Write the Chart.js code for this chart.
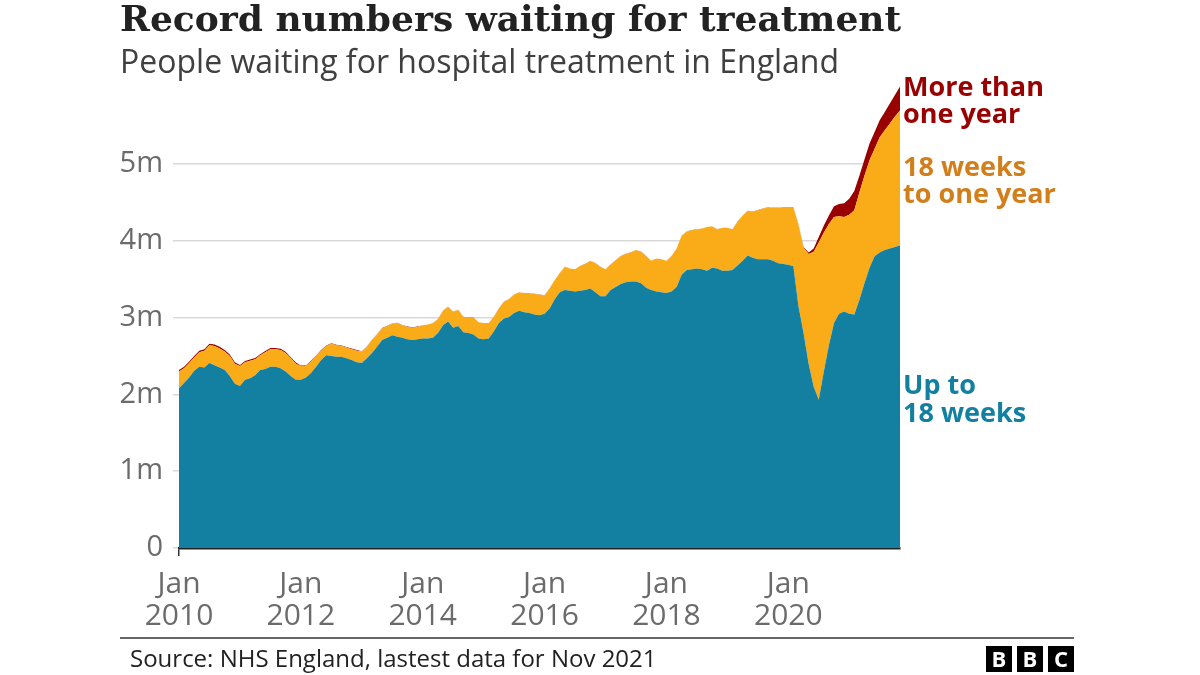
<!DOCTYPE html>
<html>
<head>
<meta charset="utf-8">
<script src="https://cdn.jsdelivr.net/npm/chart.js@4.4.1/dist/chart.umd.min.js"></script>
<style>
  body { margin: 0; background: #fff; }
  #chart { display: block; }
</style>
</head>
<body>
<canvas id="chart" width="1200" height="675"></canvas>
<script>
// ========== Data (millions of people, monthly Jan 2010 - Nov 2021) ==========
const monthNames = ['Jan', 'Feb', 'Mar', 'Apr', 'May', 'Jun', 'Jul', 'Aug', 'Sep', 'Oct', 'Nov', 'Dec'];
const years = [2010, 2011, 2012, 2013, 2014, 2015, 2016, 2017, 2018, 2019, 2020, 2021];
const lastMonthCount = 11; // data runs to Nov 2021

const upTo18Weeks = [
  2.08, 2.15, 2.22, 2.31, 2.36, 2.35, 2.41, 2.38, 2.35, 2.32, 2.24, 2.14,
  2.11, 2.19, 2.21, 2.25, 2.32, 2.33, 2.36, 2.36, 2.34, 2.30, 2.24, 2.19,
  2.19, 2.22, 2.28, 2.36, 2.45, 2.51, 2.50, 2.49, 2.49, 2.47, 2.45, 2.42,
  2.41, 2.47, 2.54, 2.62, 2.71, 2.74, 2.77, 2.75, 2.74, 2.72, 2.71, 2.72,
  2.73, 2.73, 2.74, 2.80, 2.90, 2.95, 2.87, 2.89, 2.81, 2.80, 2.78, 2.73,
  2.72, 2.73, 2.82, 2.93, 2.99, 3.01, 3.06, 3.09, 3.07, 3.06, 3.04, 3.03,
  3.05, 3.12, 3.24, 3.33, 3.36, 3.35, 3.34, 3.35, 3.36, 3.38, 3.33, 3.28,
  3.28, 3.36, 3.40, 3.44, 3.46, 3.47, 3.47, 3.45, 3.39, 3.36, 3.34, 3.33,
  3.32, 3.34, 3.40, 3.56, 3.62, 3.63, 3.64, 3.63, 3.61, 3.65, 3.64, 3.61,
  3.61, 3.62, 3.68, 3.74, 3.81, 3.78, 3.76, 3.76, 3.76, 3.74, 3.71, 3.70,
  3.69, 3.67, 3.15, 2.80, 2.40, 2.10, 1.93, 2.30, 2.64, 2.93, 3.05, 3.08,
  3.05, 3.04, 3.23, 3.45, 3.65, 3.80, 3.85, 3.88, 3.90, 3.92, 3.94
];

const weeks18ToYear = [
  0.22, 0.19, 0.19, 0.17, 0.19, 0.22, 0.23, 0.25, 0.25, 0.24, 0.26, 0.26,
  0.26, 0.23, 0.23, 0.21, 0.19, 0.22, 0.23, 0.23, 0.24, 0.24, 0.23, 0.21,
  0.18, 0.15, 0.15, 0.14, 0.12, 0.12, 0.16, 0.15, 0.14, 0.14, 0.14, 0.15,
  0.15, 0.15, 0.17, 0.16, 0.15, 0.15, 0.15, 0.18, 0.16, 0.16, 0.16, 0.16,
  0.17, 0.18, 0.19, 0.18, 0.19, 0.19, 0.21, 0.21, 0.20, 0.20, 0.22, 0.21,
  0.21, 0.20, 0.19, 0.19, 0.22, 0.23, 0.24, 0.24, 0.25, 0.26, 0.27, 0.27,
  0.24, 0.26, 0.25, 0.25, 0.30, 0.29, 0.29, 0.32, 0.34, 0.36, 0.38, 0.38,
  0.35, 0.33, 0.35, 0.36, 0.37, 0.38, 0.41, 0.41, 0.41, 0.38, 0.43, 0.43,
  0.42, 0.46, 0.50, 0.51, 0.50, 0.51, 0.51, 0.53, 0.57, 0.54, 0.51, 0.56,
  0.56, 0.53, 0.57, 0.59, 0.58, 0.60, 0.64, 0.66, 0.68, 0.69, 0.72, 0.74,
  0.75, 0.77, 1.06, 1.11, 1.43, 1.76, 2.05, 1.81, 1.58, 1.38, 1.27, 1.23,
  1.29, 1.36, 1.40, 1.40, 1.40, 1.40, 1.50, 1.56, 1.63, 1.70, 1.76
];

const overOneYear = [
  0.020, 0.020, 0.020, 0.020, 0.020, 0.020, 0.020, 0.020, 0.020, 0.020, 0.020, 0.020,
  0.015, 0.015, 0.015, 0.015, 0.015, 0.015, 0.015, 0.015, 0.015, 0.015, 0.015, 0.015,
  0.008, 0.008, 0.008, 0.008, 0.008, 0.008, 0.008, 0.008, 0.008, 0.008, 0.008, 0.008,
  0.004, 0.004, 0.004, 0.004, 0.004, 0.004, 0.004, 0.004, 0.004, 0.004, 0.004, 0.004,
  0.002, 0.002, 0.002, 0.002, 0.002, 0.002, 0.002, 0.002, 0.002, 0.002, 0.002, 0.002,
  0.002, 0.002, 0.002, 0.002, 0.002, 0.002, 0.002, 0.002, 0.002, 0.002, 0.002, 0.002,
  0.002, 0.002, 0.002, 0.002, 0.002, 0.002, 0.002, 0.002, 0.002, 0.002, 0.002, 0.002,
  0.002, 0.002, 0.002, 0.002, 0.002, 0.002, 0.002, 0.002, 0.002, 0.002, 0.002, 0.002,
  0.002, 0.002, 0.002, 0.002, 0.002, 0.002, 0.002, 0.002, 0.002, 0.002, 0.002, 0.002,
  0.002, 0.002, 0.002, 0.002, 0.002, 0.002, 0.002, 0.002, 0.002, 0.002, 0.002, 0.002,
  0.003, 0.003, 0.006, 0.012, 0.020, 0.040, 0.070, 0.090, 0.110, 0.140, 0.160, 0.180,
  0.210, 0.250, 0.220, 0.210, 0.220, 0.220, 0.220, 0.240, 0.260, 0.280, 0.310
];

const yTickValues = [0, 1, 2, 3, 4, 5];
const yTickLabels = ['0', '1m', '2m', '3m', '4m', '5m'];
const xTickYears = [2010, 2012, 2014, 2016, 2018, 2020];

// ========== Categories ==========
const months = [];
years.forEach((y, i) => {
  const n = i === years.length - 1 ? lastMonthCount : 12;
  for (let m = 0; m < n; m++) months.push(monthNames[m] + ' ' + y);
});

// ========== Styles ==========
const TEAL = '#1380A1';
const ORANGE = '#FAAB18';
const RED = '#990000';
const SANS = '"Open Sans", "Noto Sans", sans-serif';

// ========== Text overlay ==========
const textPlugin = {
  id: 'textOverlay',
  afterDraw(chart) {
    const ctx = chart.ctx;
    ctx.save();
    ctx.textAlign = 'left';
    ctx.textBaseline = 'alphabetic';

    ctx.fillStyle = '#222';
    ctx.font = 'bold 36px "DejaVu Serif", serif';
    ctx.fillText('Record numbers waiting for treatment', 120, 31);

    ctx.fillStyle = '#404040';
    ctx.font = '32px ' + SANS;
    ctx.fillText('People waiting for hospital treatment in England', 120, 73);

    // series labels on the right
    ctx.font = 'bold 27px ' + SANS;
    ctx.fillStyle = RED;
    ctx.fillText('More than', 903, 96);
    ctx.fillText('one year', 903, 123);
    ctx.fillStyle = '#D27F1B';
    ctx.fillText('18 weeks', 903, 176);
    ctx.fillText('to one year', 903, 203);
    ctx.fillStyle = TEAL;
    ctx.fillText('Up to', 903, 394);
    ctx.fillText('18 weeks', 903, 422);

    // footer
    ctx.strokeStyle = '#333';
    ctx.lineWidth = 1.5;
    ctx.beginPath();
    ctx.moveTo(120, 638);
    ctx.lineTo(1074, 638);
    ctx.stroke();

    ctx.fillStyle = '#222';
    ctx.font = '24px ' + SANS;
    ctx.fillText('Source: NHS England, lastest data for Nov 2021', 130, 667);

    ['B', 'B', 'C'].forEach((ch, i) => {
      const x = 986 + i * 31;
      ctx.fillStyle = '#000';
      ctx.fillRect(x, 646, 26, 26);
      ctx.fillStyle = '#fff';
      ctx.font = 'bold 22px ' + SANS;
      ctx.textAlign = 'center';
      ctx.fillText(ch, x + 13, 667);
    });
    ctx.restore();
  }
};

// ========== Chart ==========
new Chart(document.getElementById('chart'), {
  type: 'line',
  data: {
    labels: months,
    datasets: [
      { label: 'Up to 18 weeks', data: upTo18Weeks, backgroundColor: TEAL, borderWidth: 0, fill: 'origin' },
      { label: '18 weeks to one year', data: weeks18ToYear, backgroundColor: ORANGE, borderWidth: 0, fill: '-1' },
      { label: 'More than one year', data: overOneYear, backgroundColor: RED, borderWidth: 0, fill: '-1' }
    ]
  },
  options: {
    responsive: false,
    animation: false,
    layout: { padding: { top: 72, right: 300, left: 0, bottom: 0 } },
    elements: { point: { radius: 0 }, line: { tension: 0 } },
    plugins: { legend: { display: false }, tooltip: { enabled: false } },
    scales: {
      x: {
        z: 1,
        afterFit: s => { s.height = 127; },
        grid: {
          drawOnChartArea: false,
          tickLength: 8,
          lineWidth: 1.5,
          color: c => (c.index % 24 === 0 ? '#333' : 'rgba(0,0,0,0)')
        },
        border: { display: true, color: '#222', width: 2.5 },
        ticks: {
          autoSkip: false,
          maxRotation: 0,
          padding: 12,
          color: '#6b6b6b',
          font: { family: SANS, size: 30, lineHeight: 1.07 },
          callback: (v, i) => (i % 24 === 0 ? ['Jan', String(xTickYears[i / 24])] : null)
        }
      },
      y: {
        stacked: true,
        min: 0,
        max: 6.2,
        afterFit: s => { s.width = 179; },
        afterBuildTicks: s => { s.ticks = yTickValues.map(v => ({ value: v })); },
        grid: { color: '#d9d9d9', lineWidth: 1.5, tickLength: 6 },
        border: { display: false },
        ticks: {
          padding: 10,
          color: '#6b6b6b',
          font: { family: SANS, size: 29 },
          callback: (v, i) => yTickLabels[i]
        }
      }
    }
  },
  plugins: [textPlugin]
});
</script>
</body>
</html>
